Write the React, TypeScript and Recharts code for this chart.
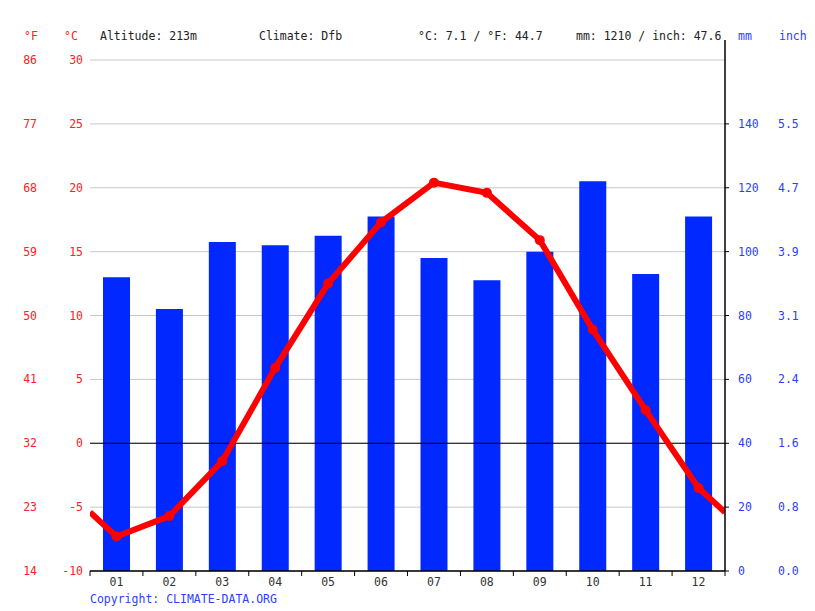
import React from 'react';
import { ComposedChart, Bar, Line, XAxis, YAxis, CartesianGrid, ReferenceLine } from 'recharts';

const months = ['01', '02', '03', '04', '05', '06', '07', '08', '09', '10', '11', '12'];
const precipitationMm = [92, 82, 103, 102, 105, 111, 98, 91, 100, 122, 93, 111];
const temperatureC = [-7.3, -5.7, -1.4, 5.9, 12.5, 17.3, 20.4, 19.6, 15.9, 8.9, 2.6, -3.5];
const edgeTemperatureC = [-5.4, -5.4];
const celsiusTicks = [-10, -5, 0, 5, 10, 15, 20, 25, 30];
const fahrenheitLabels = ['14', '23', '32', '41', '50', '59', '68', '77', '86'];
const mmTicks = [0, 20, 40, 60, 80, 100, 120, 140];
const inchLabels = ['0.0', '0.8', '1.6', '2.4', '3.1', '3.9', '4.7', '5.5'];
const monthTicks = [1, 2, 3, 4, 5, 6, 7, 8, 9, 10, 11, 12];

const W = 815;
const H = 611;
const PLOT_LEFT = 90;
const PLOT_RIGHT = 725;
const PLOT_TOP = 60;
const PLOT_BOTTOM = 571;
const HALF_BAND = (PLOT_RIGHT - PLOT_LEFT) / 24;
const FONT = '"DejaVu Sans Mono", monospace';
const FS = 11.5;
const RED = '#ff2020';
const BLUE = '#2a3fff';
const BAR = '#0028ff';

const barRows = months.map((m, i) => ({ x: i + 1, mm: precipitationMm[i] }));
const lineRows = [
  { x: 0.5, t: edgeTemperatureC[0] },
  ...months.map((m, i) => ({ x: i + 1, t: temperatureC[i] })),
  { x: 12.5, t: edgeTemperatureC[1] },
];

const LeftTick = (props: any) => {
  const { y, payload } = props;
  const idx = celsiusTicks.indexOf(payload.value);
  return (
    <g>
      <text x={37} y={y} dy={4} textAnchor="end" fill={RED} fontFamily={FONT} fontSize={FS}>
        {fahrenheitLabels[idx]}
      </text>
      <text x={83} y={y} dy={4} textAnchor="end" fill={RED} fontFamily={FONT} fontSize={FS}>
        {payload.value}
      </text>
    </g>
  );
};

const RightTick = (props: any) => {
  const { y, payload } = props;
  const idx = mmTicks.indexOf(payload.value);
  return (
    <g>
      <text x={738} y={y} dy={4} textAnchor="start" fill={BLUE} fontFamily={FONT} fontSize={FS}>
        {payload.value}
      </text>
      <text x={778} y={y} dy={4} textAnchor="start" fill={BLUE} fontFamily={FONT} fontSize={FS}>
        {inchLabels[idx]}
      </text>
    </g>
  );
};

const BottomTick = (props: any) => {
  const { x, payload } = props;
  const v = payload.value;
  const isLast = v === monthTicks[monthTicks.length - 1];
  return (
    <g>
      <line x1={x - HALF_BAND} x2={x - HALF_BAND} y1={PLOT_BOTTOM} y2={PLOT_BOTTOM + 5} stroke="#000" strokeWidth={1} />
      {isLast && (
        <line x1={x + HALF_BAND} x2={x + HALF_BAND} y1={PLOT_BOTTOM} y2={PLOT_BOTTOM + 5} stroke="#000" strokeWidth={1} />
      )}
      <text x={x} y={PLOT_BOTTOM + 15} textAnchor="middle" fill="#333" fontFamily={FONT} fontSize={FS}>
        {months[v - 1]}
      </text>
    </g>
  );
};

const Dot = (props: any) => {
  const { cx, cy, payload } = props;
  if (!Number.isInteger(payload.x)) return <g />;
  return <circle cx={cx} cy={cy} r={5} fill="#ff0000" stroke="none" />;
};

export default function App() {
  return (
    <div style={{ position: 'absolute', left: 0, top: 0, width: W, height: H, background: '#fff' }}>
      <ComposedChart
        width={W}
        height={H}
        data={barRows}
        margin={{ top: PLOT_TOP, right: 0, bottom: 0, left: 0 }}
      >
        <CartesianGrid yAxisId="c" vertical={false} stroke="#c8c8c8" strokeWidth={1} />
        <XAxis
          dataKey="x"
          type="number"
          domain={[0.5, 12.5]}
          ticks={monthTicks}
          interval={0}
          allowDataOverflow
          height={H - PLOT_BOTTOM}
          tickLine={false}
          axisLine={{ stroke: '#000', strokeWidth: 1.5 }}
          tick={<BottomTick />}
        />
        <XAxis
          xAxisId="line"
          dataKey="x"
          type="number"
          domain={[0.5, 12.5]}
          allowDataOverflow
          hide
        />
        <YAxis
          yAxisId="c"
          orientation="left"
          domain={[-10, 30]}
          ticks={celsiusTicks}
          interval={0}
          width={PLOT_LEFT}
          axisLine={false}
          tickLine={false}
          tick={<LeftTick />}
        />
        <YAxis
          yAxisId="mm"
          orientation="right"
          domain={[0, 160]}
          ticks={mmTicks}
          interval={0}
          width={W - PLOT_RIGHT}
          axisLine={{ stroke: '#000', strokeWidth: 1.5 }}
          tickLine={{ stroke: '#000' }}
          tickSize={4}
          tick={<RightTick />}
        />
        <Bar yAxisId="mm" dataKey="mm" fill={BAR} barSize={27} isAnimationActive={false} />
        <ReferenceLine yAxisId="c" y={0} stroke="#000" strokeWidth={1.2} />
        <Line
          xAxisId="line"
          yAxisId="c"
          data={lineRows}
          dataKey="t"
          type="linear"
          stroke="#ff0000"
          strokeWidth={6}
          dot={<Dot />}
          activeDot={false}
          isAnimationActive={false}
        />
      </ComposedChart>
      <svg
        width={W}
        height={H}
        style={{ position: 'absolute', left: 0, top: 0, pointerEvents: 'none' }}
        fontFamily={FONT}
        fontSize={FS}
      >
        <line x1={PLOT_RIGHT} x2={PLOT_RIGHT} y1={40} y2={PLOT_TOP} stroke="#000" strokeWidth={1.5} />
        <text x={24} y={40} fill={RED}>°F</text>
        <text x={64} y={40} fill={RED}>°C</text>
        <text x={100} y={40} fill="#222">Altitude: 213m</text>
        <text x={259} y={40} fill="#222">Climate: Dfb</text>
        <text x={418} y={40} fill="#222">°C: 7.1 / °F: 44.7</text>
        <text x={576} y={40} fill="#222">mm: 1210 / inch: 47.6</text>
        <text x={738} y={40} fill={BLUE}>mm</text>
        <text x={779} y={40} fill={BLUE}>inch</text>
        <text x={90} y={603} fill={BLUE}>Copyright: CLIMATE-DATA.ORG</text>
      </svg>
    </div>
  );
}
